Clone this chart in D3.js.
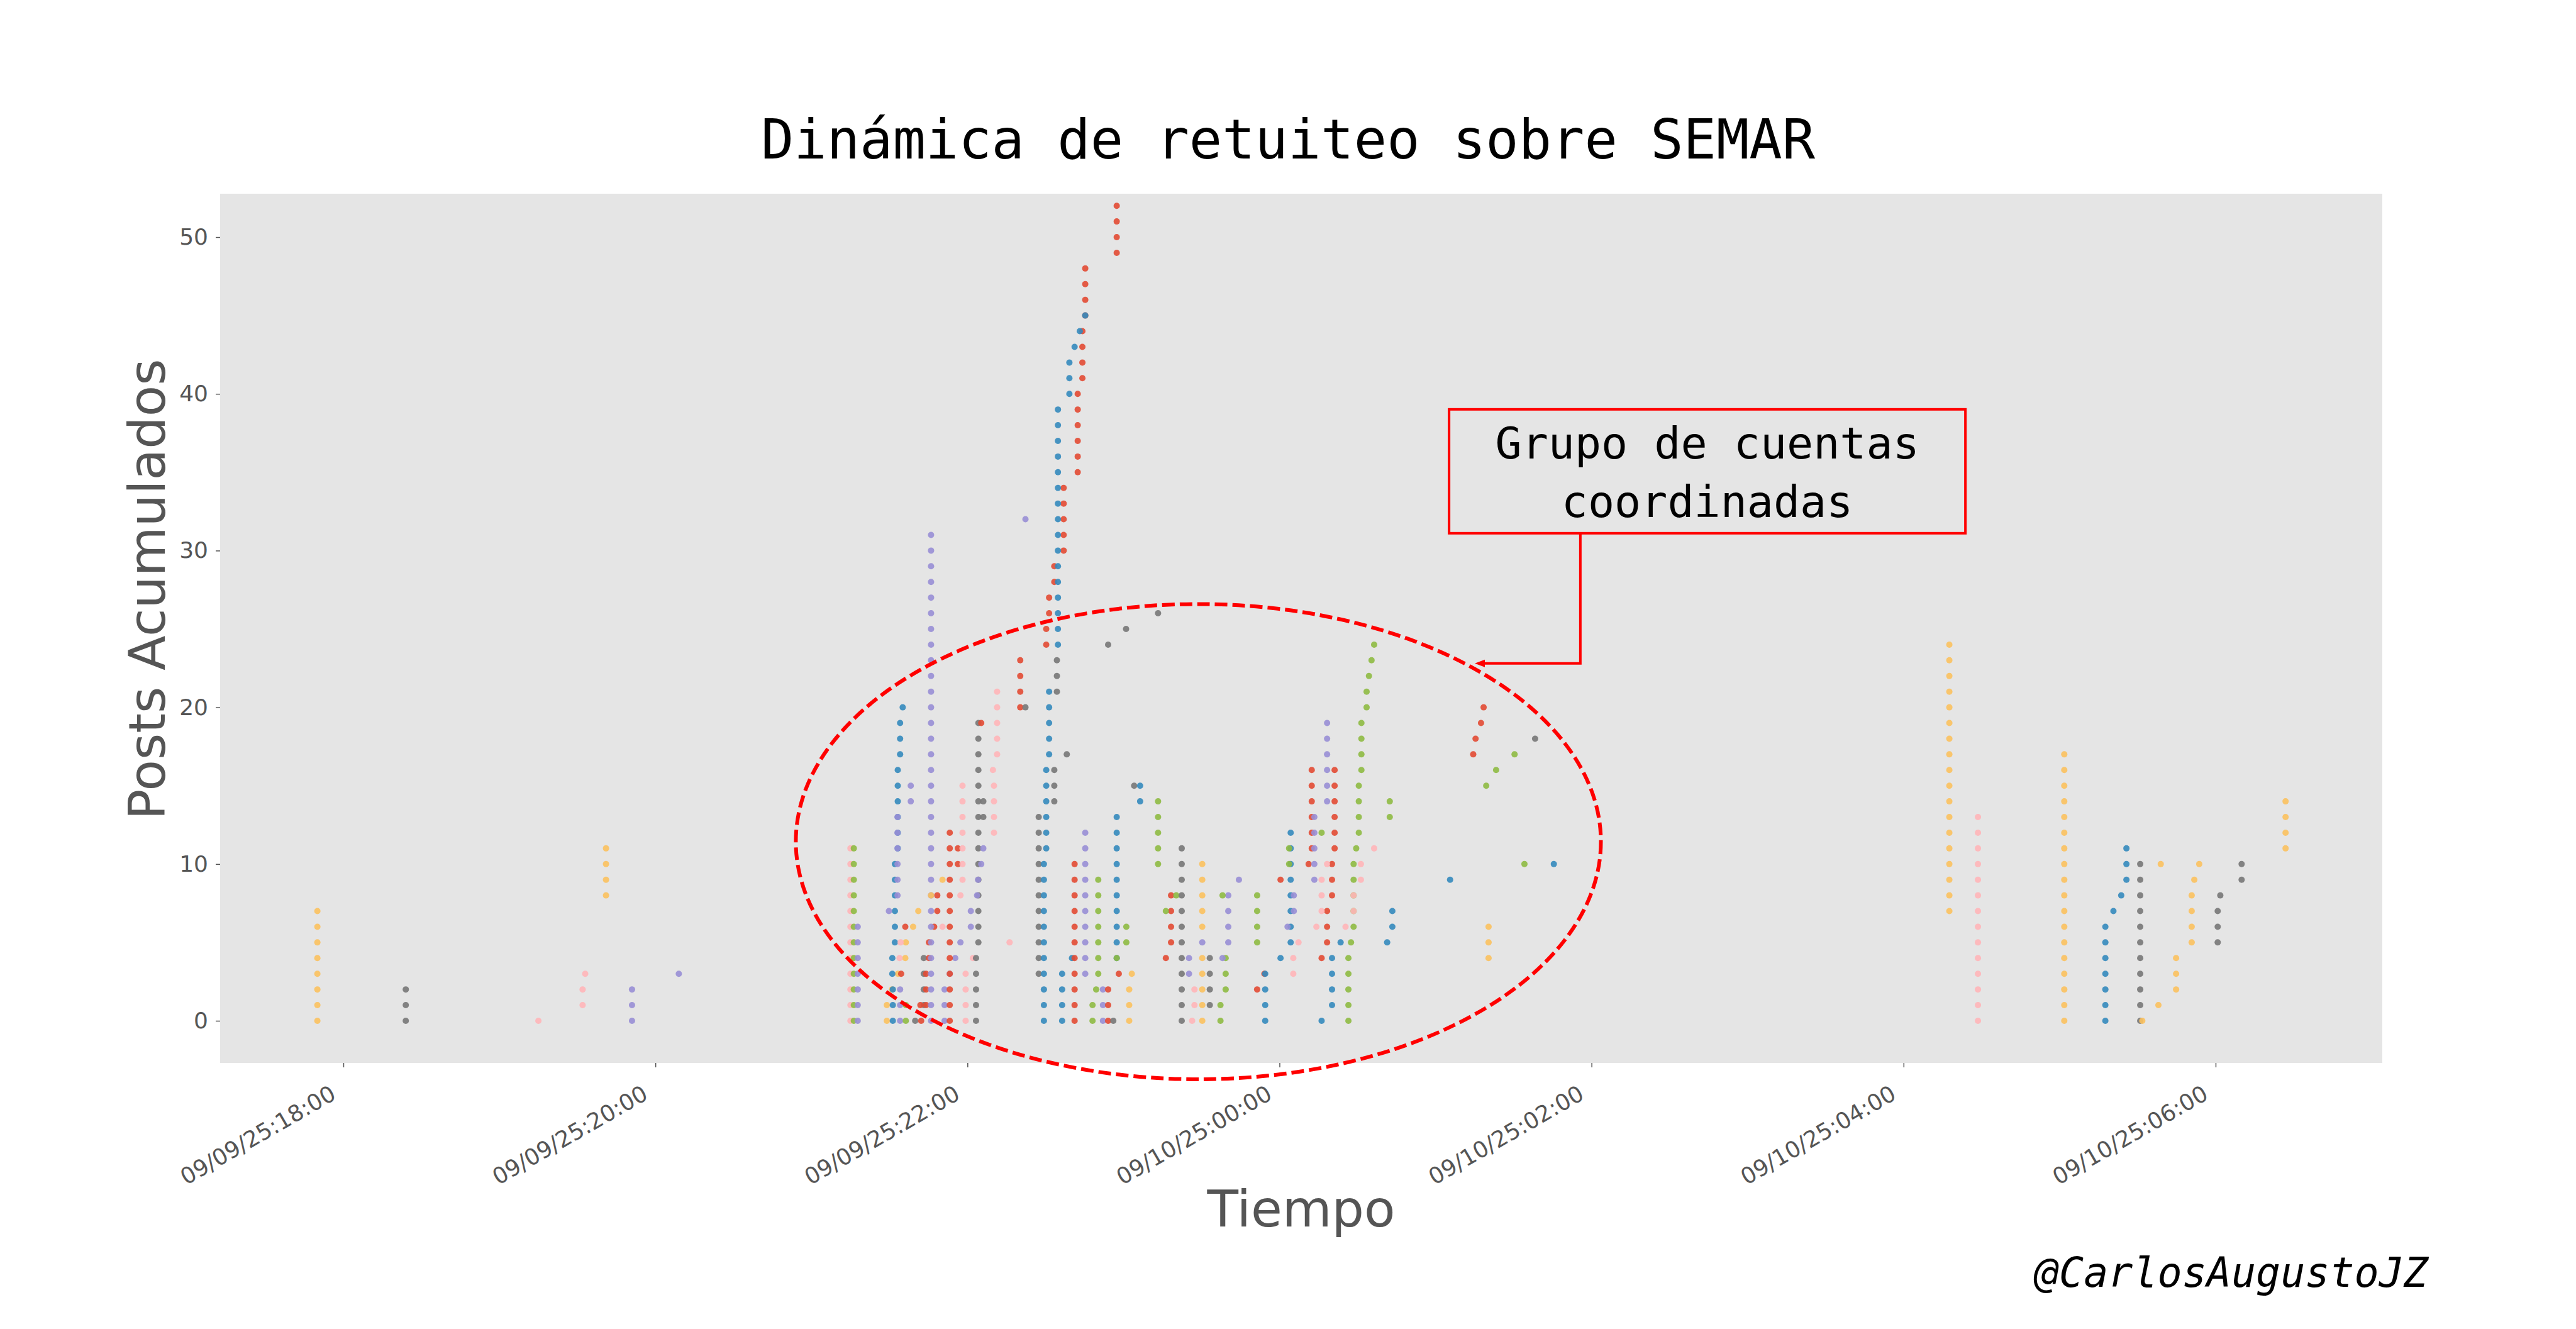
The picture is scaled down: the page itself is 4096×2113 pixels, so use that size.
<!DOCTYPE html>
<html>
<head>
<meta charset="utf-8">
<script src="https://cdn.jsdelivr.net/npm/d3@7"></script>
<style>
  body { margin: 0; background: #fff; }
</style>
</head>
<body>
<script>
const width = 4096;
const height = 2113;
const plot = { left: 350, right: 3788, top: 308, bottom: 1690 };

// ggplot style colour cycle
const palette = { R: '#E24A33', B: '#348ABD', P: '#988ED5', G: '#777777', Y: '#FBC15E', N: '#8EBA42', K: '#FFB5B8' };

const yTicks = [0, 10, 20, 30, 40, 50];
const xTickTimes = ['2025-09-09T18:00', '2025-09-09T20:00', '2025-09-09T22:00', '2025-09-10T00:00',
                    '2025-09-10T02:00', '2025-09-10T04:00', '2025-09-10T06:00'];

// one entry per account: [colour, runs]; run = [minutes after 09/09 18:00, accumulated posts at that time]
const accounts = [
  ['Y', [[-10, [0, 1, 2, 3, 4, 5, 6, 7]]]],
  ['G', [[24, [0, 1, 2]]]],
  ['K', [[75, [0]], [92, [1, 2]], [93, [3]]]],
  ['Y', [[101, [8, 9, 10, 11]]]],
  ['P', [[111, [0, 1, 2]]]],
  ['P', [[129, [3]]]],
  ['K', [[195, [0, 1, 2, 3, 4, 5, 6, 7, 8, 9, 10, 11]]]],
  ['N', [[196.3, [0, 1, 2, 3, 4, 5, 6, 7, 8, 9, 10, 11]]]],
  ['P', [[197.8, [0, 1, 2, 3, 4, 5, 6]]]],
  ['Y', [[209, [0, 1]], [211, [2]], [213.3, [3]], [216.1, [4]], [216.3, [5]], [219.1, [6]], [221.1, [7]]]],
  ['B', [[211.3, [0, 1, 2]], [211.1, [3, 4]], [212.1, [5, 6, 7, 8, 9, 10]], [213.2, [11, 12, 13, 14, 15, 16]], [214.1, [17, 18, 19]], [215.1, [20]]]],
  ['P', [[214.1, [0, 1, 2]]]],
  ['P', [[209.8, [7]], [213.1, [8, 9, 10, 11, 12, 13]]]],
  ['P', [[218.2, [14, 15]]]],
  ['N', [[216.3, [0, 1]]]],
  ['R', [[214.5, [3]], [216.1, [6]]]],
  ['K', [[213.9, [4]], [214.3, [5]]]],
  ['G', [[219.9, [0]], [223.2, [1, 2, 3, 4]]]],
  ['R', [[222.2, [0]], [224.1, [1, 2, 3]], [225.2, [4, 5]], [227.2, [6]], [228.4, [7, 8]]]],
  ['R', [[221.9, [1]]]],
  ['P', [[226, [0, 1, 2, 3, 4, 5, 6, 7, 8, 9, 10, 11, 12, 13, 14, 15, 16, 17, 18, 19, 20, 21, 22, 23, 24, 25, 26, 27, 28, 29, 30, 31]]]],
  ['Y', [[226, [8]], [230.4, [9]]]],
  ['K', [[230.4, [6]]]],
  ['P', [[231.2, [0, 1, 2]], [233.2, [3]], [235.3, [4]], [237.3, [5]]]],
  ['R', [[233.2, [0, 1, 2, 3, 4, 5, 6, 7, 8, 9, 10, 11, 12]]]],
  ['R', [[236.3, [10, 11]]]],
  ['K', [[239.3, [0, 1, 2, 3]], [242.1, [4]]]],
  ['K', [[237.3, [8]], [238.1, [9, 10, 11, 12, 13, 14, 15]]]],
  ['G', [[243.3, [0, 1, 2, 3, 4]], [244.2, [5, 6, 7, 8, 9, 10, 11, 12, 13, 14, 15, 16, 17, 18, 19]]]],
  ['G', [[246.1, [13, 14]]]],
  ['P', [[241.3, [6, 7]], [243.7, [8]], [244.1, [9]], [245.3, [10]], [246.1, [11]]]],
  ['R', [[245.3, [19]]]],
  ['K', [[250.2, [12, 13, 14, 15]], [249.8, [16]], [251.4, [17, 18, 19, 20, 21]]]],
  ['K', [[256.2, [5]]]],
  ['R', [[260.3, [20, 21, 22, 23]]]],
  ['G', [[262.3, [20]]]],
  ['P', [[262.3, [32]]]],
  ['G', [[267.4, [3, 4, 5, 6, 7, 8, 9, 10, 11, 12, 13]]]],
  ['B', [[269.4, [0, 1, 2, 3, 4, 5, 6, 7, 8, 9, 10]], [270.3, [11, 12, 13, 14, 15, 16]], [271.4, [17, 18, 19, 20, 21]]]],
  ['G', [[273.4, [14, 15, 16]]]],
  ['G', [[274.4, [21, 22, 23]]]],
  ['G', [[278.2, [17]]]],
  ['R', [[270.3, [24, 25]], [271.4, [26, 27]], [273.4, [28, 29]], [277, [30, 31, 32, 33, 34]], [282.4, [35, 36, 37, 38, 39, 40]], [284.2, [41, 42, 43, 44]], [285.3, [45, 46, 47, 48]]]],
  ['R', [[297.4, [49, 50, 51, 52]]]],
  ['B', [[274.8, [24, 25, 26, 27, 28, 29, 30, 31, 32, 33, 34, 35, 36, 37, 38, 39]]]],
  ['B', [[279.2, [40, 41, 42]], [281.2, [43]], [283.2, [44]], [285.3, [45]]]],
  ['B', [[297.4, [4, 5, 6, 7, 8, 9, 10, 11, 12, 13]]]],
  ['G', [[294.1, [24]], [301, [25]]]],
  ['G', [[313.3, [26]]]],
  ['B', [[276.4, [0, 1, 2, 3]], [280.2, [4]]]],
  ['R', [[281.2, [0, 1, 2, 3, 4, 5, 6, 7, 8, 9, 10]]]],
  ['P', [[285.3, [3, 4, 5, 6, 7, 8, 9, 10, 11, 12]]]],
  ['N', [[288.1, [0, 1]], [289.5, [2]], [290.3, [3, 4, 5, 6, 7, 8, 9]]]],
  ['P', [[292.1, [0, 1, 2]]]],
  ['R', [[294.1, [0, 1, 2]], [298.2, [3]]]],
  ['G', [[296.1, [0]]]],
  ['N', [[297.4, [4]], [301.1, [5, 6]]]],
  ['Y', [[302.2, [0, 1, 2]], [303.2, [3]]]],
  ['G', [[304.1, [15]]]],
  ['B', [[306.4, [14, 15]]]],
  ['N', [[313.3, [10, 11, 12, 13, 14]]]],
  ['R', [[316.3, [4]], [318.3, [5, 6, 7, 8]]]],
  ['N', [[316.3, [7]], [320.3, [8]]]],
  ['G', [[322.4, [0, 1, 2, 3, 4, 5, 6, 7, 8, 9, 10, 11]]]],
  ['P', [[325.2, [3, 4]], [330.3, [5]]]],
  ['K', [[326.4, [0]], [327.3, [1, 2]]]],
  ['Y', [[330.3, [0, 1, 2, 3, 4, 6, 7, 8, 9, 10]]]],
  ['G', [[333.2, [1, 2, 3, 4]]]],
  ['N', [[337.3, [0, 1]], [339.3, [2, 3, 4]]]],
  ['P', [[338.1, [4]], [340.3, [5, 6, 7, 8]], [344.4, [9]]]],
  ['N', [[338.1, [8]]]],
  ['N', [[351.4, [5, 6, 7, 8]]]],
  ['R', [[351.4, [2]], [354.2, [3]]]],
  ['B', [[354.5, [0, 1, 2, 3]]]],
  ['R', [[360.4, [9]]]],
  ['B', [[360.4, [4]]]],
  ['B', [[364.3, [5, 6, 7, 8, 9, 10, 11, 12]]]],
  ['N', [[363.7, [10, 11]]]],
  ['P', [[363.1, [6]], [365.5, [7, 8]]]],
  ['K', [[365.3, [3, 4]], [367.3, [5]]]],
  ['R', [[371.2, [10]], [372.4, [11, 12, 13, 14, 15, 16]]]],
  ['P', [[373.4, [9, 10, 11, 12, 13]]]],
  ['N', [[376.2, [12]]]],
  ['P', [[378.3, [14, 15, 16, 17, 18, 19]]]],
  ['R', [[376.2, [4]], [378.3, [5, 6, 7]], [380.2, [8, 9, 10]], [381.2, [11, 12, 13, 14, 15, 16]]]],
  ['K', [[374.2, [6]], [376.2, [7, 8, 9]], [378.3, [10]]]],
  ['B', [[376.2, [0]], [380.2, [1, 2, 3, 4]], [383.5, [5]]]],
  ['N', [[386.5, [0, 1, 2, 3, 4]], [387.5, [5]], [388.5, [6, 7, 8, 9, 10]], [389.5, [11]], [390.5, [12, 13, 14, 15]], [391.5, [16, 17, 18, 19]], [393.5, [20, 21]], [394.4, [22]], [395.4, [23]], [396.4, [24]]]],
  ['K', [[385.4, [6]], [388.5, [7, 8]], [391.3, [9, 10]], [396.4, [11]]]],
  ['N', [[402.4, [13, 14]]]],
  ['B', [[401.4, [5]], [403.4, [6, 7]]]],
  ['R', [[434.5, [17]], [435.4, [18]], [437.5, [19]], [438.5, [20]]]],
  ['N', [[439.5, [15]], [443.3, [16]], [450.4, [17]]]],
  ['G', [[458.3, [18]]]],
  ['B', [[425.6, [9]]]],
  ['N', [[454.2, [10]]]],
  ['B', [[465.5, [10]]]],
  ['Y', [[440.4, [4, 5, 6]]]],
  ['Y', [[617.6, [7, 8, 9, 10, 11, 12, 13, 14, 15, 16, 17, 18, 19, 20, 21, 22, 23, 24]]]],
  ['K', [[628.6, [0, 1, 2, 3, 4, 5, 6, 7, 8, 9, 10, 11, 12, 13]]]],
  ['Y', [[661.8, [0, 1, 2, 3, 4, 5, 6, 7, 8, 9, 10, 11, 12, 13, 14, 15, 16, 17]]]],
  ['B', [[677.6, [0, 1, 2, 3, 4, 5, 6]], [680.7, [7]], [683.7, [8]], [685.7, [9, 10, 11]]]],
  ['G', [[691, [0, 1, 2, 3, 4, 5, 6, 7, 8, 9, 10]]]],
  ['Y', [[691.8, [0]], [698, [1]], [704.8, [2, 3, 4]]]],
  ['Y', [[698.9, [10]]]],
  ['Y', [[710.8, [5, 6, 7, 8]], [711.8, [9]], [713.7, [10]]]],
  ['G', [[720.8, [5, 6, 7]], [721.8, [8]], [730, [9, 10]]]],
  ['Y', [[746.9, [11, 12, 13, 14]]]]
];

// annotation, in data units (minutes after 18:00, posts)
const ring = { t: 328.8, v: 11.43, dt: 154.8, dv: 15.16 };
const note = { lines: ['Grupo de cuentas', 'coordinadas'], t: 524.5, v: 35.06, tipT: 435.1, tipV: 22.8, elbowT: 475.7 };

const start = d3.timeParse('%Y-%m-%dT%H:%M')('2025-09-09T18:00');
const toDate = m => d3.timeSecond.offset(start, Math.round(m * 60));

const x = d3.scaleTime()
  .domain([toDate(-47.4), toDate(784.1)])
  .range([plot.left, plot.right]);
const y = d3.scaleLinear()
  .domain([-2.69, 52.77])
  .range([plot.bottom, plot.top]);

const svg = d3.select('body').append('svg')
  .attr('width', width)
  .attr('height', height)
  .style('font-family', 'DejaVu Sans, sans-serif');

svg.append('rect')
  .attr('x', plot.left).attr('y', plot.top)
  .attr('width', plot.right - plot.left).attr('height', plot.bottom - plot.top)
  .attr('fill', '#E5E5E5');

// axes
const yAxis = svg.append('g')
  .attr('transform', `translate(${plot.left},0)`)
  .call(d3.axisLeft(y).tickValues(yTicks).tickSize(7).tickPadding(12));
yAxis.select('.domain').remove();
yAxis.selectAll('line').attr('stroke', '#555').attr('stroke-width', 1.5);
yAxis.selectAll('text').attr('fill', '#555').style('font-size', '36px').style('font-family', 'DejaVu Sans');

const parseTick = d3.timeParse('%Y-%m-%dT%H:%M');
const xAxis = svg.append('g')
  .attr('transform', `translate(0,${plot.bottom})`)
  .call(d3.axisBottom(x).tickValues(xTickTimes.map(parseTick)).tickSize(7)
    .tickFormat(d3.timeFormat('%m/%d/%y:%H:%M')));
xAxis.select('.domain').remove();
xAxis.selectAll('line').attr('stroke', '#555').attr('stroke-width', 1.5);
xAxis.selectAll('text')
  .attr('fill', '#555')
  .style('font-size', '36px')
  .style('font-family', 'DejaVu Sans')
  .attr('text-anchor', 'end')
  .attr('x', 0).attr('y', 0).attr('dy', null)
  .attr('transform', 'translate(-10,56) rotate(-30)');

// dots
const points = accounts.flatMap(([c, runs], i) =>
  runs.flatMap(([t, vals]) => vals.map(v => ({ c, t, v, i }))));

svg.append('g')
  .selectAll('circle')
  .data(points)
  .enter()
  .append('circle')
  .attr('cx', d => x(toDate(d.t)))
  .attr('cy', d => y(d.v))
  .attr('r', 5)
  .attr('fill', d => palette[d.c])
  .attr('fill-opacity', 0.9);

// dashed ellipse
const cx = x(toDate(ring.t));
svg.append('ellipse')
  .attr('cx', cx)
  .attr('cy', y(ring.v))
  .attr('rx', x(toDate(ring.t + ring.dt)) - cx)
  .attr('ry', y(ring.v - ring.dv) - y(ring.v))
  .attr('fill', 'none')
  .attr('stroke', '#FF0000')
  .attr('stroke-width', 6)
  .attr('stroke-dasharray', '20,8');

// annotation box + arrow
const boxW = 821, boxH = 197;
const bx = x(toDate(note.t)), by = y(note.v);
const tipX = x(toDate(note.tipT)), tipY = y(note.tipV), elbowX = x(toDate(note.elbowT));

svg.append('path')
  .attr('d', `M${elbowX},${by + boxH / 2} V${tipY} H${tipX + 12}`)
  .attr('fill', 'none')
  .attr('stroke', '#FF0000')
  .attr('stroke-width', 4);
svg.append('path')
  .attr('d', `M${tipX},${tipY} L${tipX + 16},${tipY - 6} L${tipX + 16},${tipY + 6} Z`)
  .attr('fill', '#FF0000');

svg.append('rect')
  .attr('x', bx - boxW / 2).attr('y', by - boxH / 2)
  .attr('width', boxW).attr('height', boxH)
  .attr('fill', 'none')
  .attr('stroke', '#FF0000')
  .attr('stroke-width', 4);

svg.append('g')
  .selectAll('text')
  .data(note.lines)
  .enter()
  .append('text')
  .attr('x', bx)
  .attr('y', (d, i) => by - 20 + i * 93)
  .attr('text-anchor', 'middle')
  .style('font-family', 'DejaVu Sans Mono, monospace')
  .style('font-size', '70px')
  .attr('fill', '#000')
  .text(d => d);

// titles
svg.append('text')
  .text('Dinámica de retuiteo sobre SEMAR')
  .attr('x', width / 2)
  .attr('y', 252)
  .attr('text-anchor', 'middle')
  .style('font-family', 'DejaVu Sans Mono, monospace')
  .style('font-size', '87px')
  .attr('fill', '#000');

svg.append('text')
  .text('Tiempo')
  .attr('x', (plot.left + plot.right) / 2)
  .attr('y', 1950)
  .attr('text-anchor', 'middle')
  .style('font-size', '81px')
  .attr('fill', '#555');

svg.append('text')
  .text('Posts Acumulados')
  .attr('transform', 'translate(262,937) rotate(-90)')
  .attr('text-anchor', 'middle')
  .style('font-size', '81px')
  .attr('fill', '#555');

svg.append('text')
  .text('@CarlosAugustoJZ')
  .attr('x', 3861)
  .attr('y', 2046)
  .attr('text-anchor', 'end')
  .style('font-family', 'DejaVu Sans Mono, monospace')
  .style('font-style', 'oblique')
  .style('font-size', '65px')
  .attr('fill', '#000');
</script>
</body>
</html>
